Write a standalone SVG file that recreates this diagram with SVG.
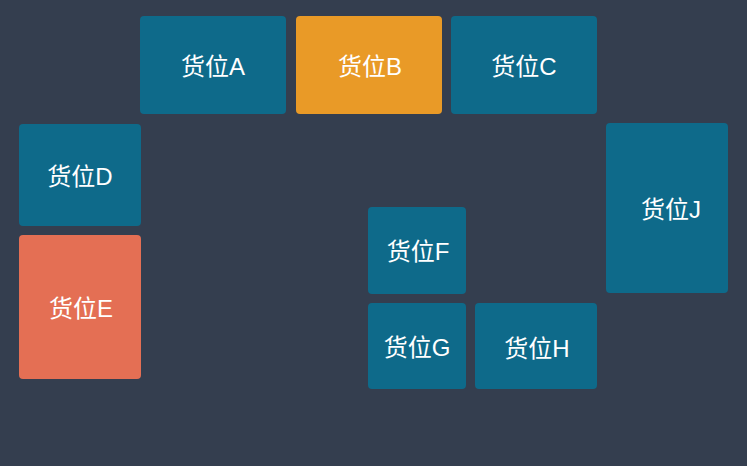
<svg xmlns="http://www.w3.org/2000/svg" width="747" height="466" viewBox="0 0 747 466">
<style>
.t{fill:#0e6a8a}
.o{fill:#e99a27}
.r{fill:#e46f54}
text{fill:#ffffff;font-family:"Liberation Sans","Noto Sans CJK SC",sans-serif;font-size:24px;text-anchor:middle;dominant-baseline:central}
</style>
<rect width="747" height="466" fill="#343e4f"/>
<g id="nodeA"><rect class="t" x="140" y="16" width="146" height="98" rx="4"/><text x="213" y="66">货位A</text></g>
<g id="nodeB"><rect class="o" x="296" y="16" width="146" height="98" rx="4"/><text x="370" y="66">货位B</text></g>
<g id="nodeC"><rect class="t" x="451" y="16" width="146" height="98" rx="4"/><text x="524" y="66">货位C</text></g>
<g id="nodeD"><rect class="t" x="19" y="124" width="122" height="102" rx="4"/><text x="80" y="176">货位D</text></g>
<g id="nodeE"><rect class="r" x="19" y="235" width="122" height="144" rx="4"/><text x="81" y="308">货位E</text></g>
<g id="nodeF"><rect class="t" x="368" y="207" width="98" height="87" rx="4"/><text x="418" y="251">货位F</text></g>
<g id="nodeG"><rect class="t" x="368" y="303" width="98" height="86" rx="4"/><text x="417" y="347">货位G</text></g>
<g id="nodeH"><rect class="t" x="475" y="303" width="122" height="86" rx="4"/><text x="537" y="348">货位H</text></g>
<g id="nodeJ"><rect class="t" x="606" y="123" width="122" height="170" rx="4"/><text x="671" y="209">货位J</text></g>
<g id="connectors"></g>
</svg>
